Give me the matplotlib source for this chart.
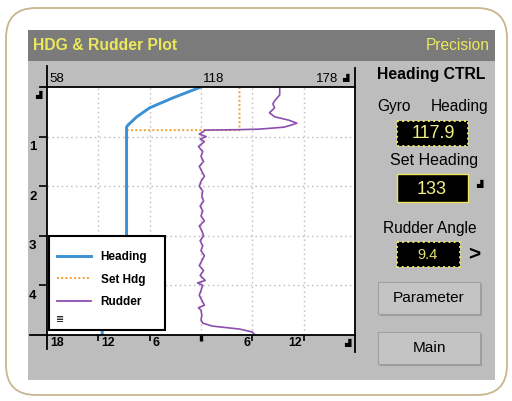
import matplotlib.pyplot as plt
from matplotlib.patches import Rectangle, FancyBboxPatch
from matplotlib.lines import Line2D
from matplotlib.transforms import ScaledTranslation

plt.rcParams['font.family'] = ['Liberation Sans', 'DejaVu Sans']

# time in minutes back from now (0 = top of plot)
hdg_time = [0, 0.22, 0.42, 0.60, 0.77, 0.81, 3.6, 3.75, 5.0]
hdg_deg = [118, 107, 98, 93, 89.5, 89, 89, 79.5, 79.5]

sethdg_time = [0, 0.87, 0.87, 3.6, 3.75, 5.0]
sethdg_deg = [133, 133, 89, 89, 79.5, 79.5]

rud_time = [0, 0.16, 0.22, 0.28, 0.34, 0.42, 0.52, 0.60, 0.67, 0.73, 0.77, 0.81, 0.85, 0.86, 0.87,
            0.9, 0.95, 1.0, 1.05, 1.1, 1.2, 1.3, 1.4, 1.5, 1.6, 1.7, 1.8, 1.9, 2.0, 2.1, 2.2, 2.3, 2.4,
            2.5, 2.6, 2.7, 2.8, 2.9, 3.0, 3.1, 3.2, 3.3, 3.4, 3.5, 3.6, 3.7, 3.8, 3.9, 3.95, 4.0, 4.1,
            4.2, 4.3, 4.4, 4.45, 4.5, 4.6, 4.7, 4.76, 4.82, 4.88, 4.94, 5.0]
rud_deg = [9.2, 9.2, 8.9, 8.6, 8.4, 8.6, 8.0, 8.6, 10.3, 11.2, 10.5, 9.7, 6.8, 4.5, 0.4,
           0.3, -0.2, 0.6, -0.1, 0.4, -0.3, 0.2, 0.0, 0.3, -0.2, 0.1, 0.4, 0.0, -0.2, 0.2, 0.1, 0.3, -0.1,
           0.2, 0.0, 0.4, -0.2, 0.1, 0.3, -0.1, 0.2, 0.0, 0.4, 0.1, -0.2, 0.3, -0.1, 0.5, -0.4, 0.2, 0.0,
           -0.2, 0.1, 0.4, -0.3, 0.0, 0.1, 0.0, 0.2, 1.3, 4.5, 6.0, 6.3]

hdg_grid = [78, 98, 118, 138, 158]
time_ticks = [1, 2, 3, 4]
rud_ticks = [-12, -6, 0, 6, 12]
rud_labels = {-18: '18', -12: '12', -6: '6', 6: '6', 12: '12'}

gyro_heading = '117.9'
set_heading = '133'
rudder_angle = '9.4'

blue = '#3b91d3'
orange = '#f0a030'
purple = '#8c4fae'
yellow = '#ece85c'

W, H = 512, 401
fig = plt.figure(figsize=(W / 100, H / 100), dpi=100)


def frac(x0, y0, x1, y1):
    return [x0 / W, 1 - y1 / H, (x1 - x0) / W, (y1 - y0) / H]


# background / screen frame
bg = fig.add_axes([0, 0, 1, 1], zorder=0)
bg.set_xlim(0, W)
bg.set_ylim(H, 0)
bg.axis('off')
bg.add_patch(FancyBboxPatch((6, 8), 501, 387, boxstyle='round,pad=0,rounding_size=30',
                            fc='white', ec='#c9b58f', lw=1.3))
bg.add_patch(Rectangle((28, 30), 467, 350, fc='#bdbdbd', ec='none'))
bg.add_patch(Rectangle((28, 30), 467, 31, fc='#7b7b7b', ec='none'))
bg.text(33, 46, 'HDG & Rudder Plot', color=yellow, fontsize=11.3, fontweight='bold', va='center')
bg.text(490, 46, 'Precision', color=yellow, fontsize=11.2, ha='right', va='center')

# right panel
bg.text(431, 75, 'Heading CTRL', fontsize=11.3, fontweight='bold', ha='center', va='center')
bg.text(377, 107, 'Gyro', fontsize=11.2, ha='left', va='center')
bg.text(488, 107, 'Heading', fontsize=11.2, ha='right', va='center')
bg.add_patch(Rectangle((397, 121), 71, 25, fc='black', ec=yellow, lw=1.4, ls=':'))
bg.text(433, 134, gyro_heading, color='#f2f08a', fontsize=13, ha='center', va='center')
bg.text(434, 160, 'Set Heading', fontsize=11.5, ha='center', va='center')
bg.add_patch(Rectangle((397, 174), 71, 28, fc='black', ec=yellow, lw=1.0))
bg.text(432, 189, set_heading, color='#f2f08a', fontsize=13, ha='center', va='center')
bg.text(479, 184, '\u259f', fontsize=6, ha='center', va='center')
bg.text(430, 229, 'Rudder Angle', fontsize=11.2, ha='center', va='center')
bg.add_patch(Rectangle((397, 242), 63, 25, fc='black', ec=yellow, lw=1.4, ls=':'))
bg.text(428, 255, rudder_angle, color='#e4e070', fontsize=10.5, ha='center', va='center')
bg.text(474, 255, '>', fontsize=15, fontweight='bold', ha='center', va='center')
for y0, label in [(282, 'Parameter'), (332, 'Main')]:
    bg.add_patch(Rectangle((380, y0 + 2), 102, 32, fc='#9a9a9a', ec='none'))
    bg.add_patch(Rectangle((378, y0), 102, 32, fc='#c4c4c4', ec='#a0a0a0', lw=0.8))
    bg.text(429, y0 + 16, label, fontsize=11.1, ha='center', va='center')

# plot area
ax = fig.add_axes(frac(47, 87, 355, 335), zorder=2)
ax.set_xlim(58, 178)
ax.set_ylim(5, 0)
ax.set_xticks(hdg_grid)
ax.set_xticks([118], minor=True)
ax.set_yticks(time_ticks)
ax.set_yticklabels([str(t) for t in time_ticks], fontweight='bold')
ax.grid(True, color='#cbbfbf', linestyle=(0, (1.2, 2.2)), linewidth=1.0)
ax.tick_params(axis='x', which='major', length=0, labelbottom=False)
ax.tick_params(axis='x', which='minor', top=True, bottom=False, direction='out', length=5, width=2)
ax.tick_params(axis='y', direction='out', length=6, width=1.2, pad=1.5, labelsize=9.5)
for lab in ax.get_yticklabels():
    lab.set_transform(lab.get_transform() + ScaledTranslation(0, -9 / 100, fig.dpi_scale_trans))
for s in ax.spines.values():
    s.set_visible(False)

ax.plot(sethdg_deg, sethdg_time, color=orange, lw=1.4, ls=(0, (1, 1.2)))
ax.plot(hdg_deg, hdg_time, color=blue, lw=2.1, solid_capstyle='butt')

ax.annotate('58', xy=(58, 1), xycoords=('data', 'axes fraction'), xytext=(2, 8),
            textcoords='offset pixels', ha='left', va='center', fontsize=9.5)
ax.annotate('118', xy=(118, 1), xycoords=('data', 'axes fraction'), xytext=(2, 8),
            textcoords='offset pixels', ha='left', va='center', fontsize=9.5)
ax.annotate('178', xy=(178, 1), xycoords=('data', 'axes fraction'), xytext=(-17, 8),
            textcoords='offset pixels', ha='right', va='center', fontsize=9.5)

# rudder scale on the bottom
ax2 = ax.twiny()
ax2.set_xlim(-18, 18)
ax2.xaxis.tick_bottom()
ax2.set_xticks(rud_ticks)
ax2.tick_params(direction='out', length=4.5, width=1.2, labelbottom=False, labeltop=False)
ax2.xaxis.get_major_ticks()[2].tick1line.set_markeredgewidth(2.4)
for s in ax2.spines.values():
    s.set_visible(False)
ax2.plot(rud_deg, rud_time, color=purple, lw=1.2)

for val, txt in rud_labels.items():
    ha = 'left' if val < 0 else 'right'
    dx = 3 if val < 0 else -2
    ax2.annotate(txt, xy=(val, 0), xycoords=('data', 'axes fraction'), xytext=(dx, -8),
                 textcoords='offset pixels', ha=ha, va='center', fontsize=8.8, fontweight='bold')

ax2.add_patch(Rectangle((49, 236), 116, 94, transform=bg.transData, fc='white', ec='black',
                        lw=1.5, zorder=4, clip_on=False))
handles = [Line2D([], [], color=blue, lw=2.1),
           Line2D([], [], color=orange, lw=1.4, ls=(0, (1, 1.2))),
           Line2D([], [], color=purple, lw=1.3)]
leg = ax2.legend(handles, ['Heading', 'Set Hdg', 'Rudder'], loc='upper left',
                 bbox_to_anchor=(57 / W, 1 - 251 / H), bbox_transform=fig.transFigure,
                 frameon=False, prop={'size': 8.5, 'weight': 'bold'}, handlelength=2.9,
                 handletextpad=0.8, labelspacing=0.9, borderpad=0, borderaxespad=0)
leg.set_zorder(5)

# axis lines and small icons on top
fg = fig.add_axes([0, 0, 1, 1], zorder=6)
fg.patch.set_visible(False)
fg.set_xlim(0, W)
fg.set_ylim(H, 0)
fg.axis('off')
fg.plot([47, 47], [66, 349], color='black', lw=1.3)
fg.plot([355, 355], [68, 352], color='black', lw=1.3)
fg.plot([40, 355], [87, 87], color='black', lw=1.3)
fg.plot([30, 355], [335, 335], color='black', lw=1.3)
fg.text(38, 95, '\u259f', fontsize=6, ha='center', va='center')
fg.text(345, 78, '\u259f', fontsize=6, ha='center', va='center')
fg.text(347, 343, '\u259f', fontsize=6, ha='center', va='center')
fg.text(60, 319, '\u2263', fontsize=7, ha='center', va='center', zorder=7)

fig.savefig('out.png', dpi=100)
